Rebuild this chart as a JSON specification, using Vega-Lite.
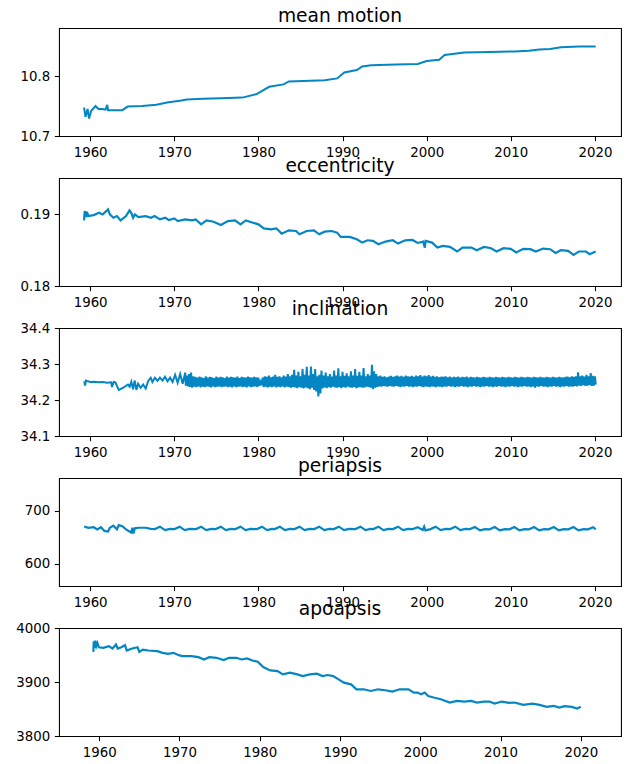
{
  "$schema": "https://vega.github.io/schema/vega-lite/v6.json",
  "background": "white",
  "padding": {"left": 15, "top": 6, "right": 10, "bottom": 5},
  "bounds": "flush",
  "spacing": 42,
  "config": {
    "font": "DejaVu Sans",
    "view": {"stroke": "black", "strokeWidth": 1.07},
    "axis": {"grid": false, "domain": false, "ticks": true, "tickColor": "black", "tickSize": 4.67, "tickWidth": 1.07, "labelPadding": 4.67, "labelFontSize": 13.33, "labelColor": "black", "labelFont": "DejaVu Sans", "labelFlush": false, "labelOverlap": false, "title": null},
    "title": {"fontSize": 18.67, "fontWeight": "normal", "font": "DejaVu Sans", "color": "black", "offset": 2.5, "baseline": "alphabetic", "anchor": "middle"}
  },
  "datasets": {
    "mm": [
      {"year": 1959.28, "value": 10.7475}, {"year": 1959.45, "value": 10.732}, {"year": 1959.70, "value": 10.745}, {"year": 1959.87, "value": 10.729},
      {"year": 1960.13, "value": 10.742}, {"year": 1960.64, "value": 10.750}, {"year": 1960.98, "value": 10.745}, {"year": 1961.40, "value": 10.745},
      {"year": 1961.83, "value": 10.744}, {"year": 1962.04, "value": 10.752}, {"year": 1962.13, "value": 10.743}, {"year": 1962.77, "value": 10.743},
      {"year": 1963.83, "value": 10.743}, {"year": 1964.47, "value": 10.749}, {"year": 1966.17, "value": 10.750}, {"year": 1967.87, "value": 10.752},
      {"year": 1969.15, "value": 10.756}, {"year": 1970.85, "value": 10.759}, {"year": 1971.49, "value": 10.761}, {"year": 1973.40, "value": 10.762},
      {"year": 1975.53, "value": 10.763}, {"year": 1978.09, "value": 10.764}, {"year": 1979.79, "value": 10.770}, {"year": 1981.28, "value": 10.782},
      {"year": 1982.98, "value": 10.786}, {"year": 1983.62, "value": 10.791}, {"year": 1986.17, "value": 10.792}, {"year": 1987.87, "value": 10.793},
      {"year": 1989.36, "value": 10.796}, {"year": 1990.21, "value": 10.806}, {"year": 1991.70, "value": 10.810}, {"year": 1992.34, "value": 10.816},
      {"year": 1993.40, "value": 10.818}, {"year": 1996.38, "value": 10.819}, {"year": 1998.94, "value": 10.820}, {"year": 2000.00, "value": 10.825},
      {"year": 2001.49, "value": 10.827}, {"year": 2002.13, "value": 10.835}, {"year": 2004.47, "value": 10.839}, {"year": 2007.45, "value": 10.840},
      {"year": 2010.43, "value": 10.841}, {"year": 2012.13, "value": 10.842}, {"year": 2013.40, "value": 10.844}, {"year": 2014.68, "value": 10.845},
      {"year": 2015.96, "value": 10.848}, {"year": 2018.09, "value": 10.849}, {"year": 2020.09, "value": 10.849}
    ],
    "ecc": [
      {"year": 1959.28, "value": 0.18911}, {"year": 1959.36, "value": 0.19040}, {"year": 1959.53, "value": 0.18957}, {"year": 1959.62, "value": 0.19031},
      {"year": 1959.79, "value": 0.18971}, {"year": 1960.43, "value": 0.18985}, {"year": 1961.06, "value": 0.19017}, {"year": 1961.49, "value": 0.18994},
      {"year": 1961.91, "value": 0.19040}, {"year": 1962.13, "value": 0.19063}, {"year": 1962.34, "value": 0.18994}, {"year": 1962.77, "value": 0.18948},
      {"year": 1963.19, "value": 0.18971}, {"year": 1963.62, "value": 0.18911}, {"year": 1964.26, "value": 0.18971}, {"year": 1964.68, "value": 0.19049},
      {"year": 1964.89, "value": 0.19017}, {"year": 1965.11, "value": 0.18948}, {"year": 1965.32, "value": 0.18994}, {"year": 1965.74, "value": 0.18957},
      {"year": 1966.60, "value": 0.18971}, {"year": 1967.23, "value": 0.18948}, {"year": 1967.66, "value": 0.18971}, {"year": 1968.30, "value": 0.18925},
      {"year": 1968.94, "value": 0.18948}, {"year": 1969.36, "value": 0.18916}, {"year": 1970.00, "value": 0.18939}, {"year": 1970.43, "value": 0.18902},
      {"year": 1971.28, "value": 0.18925}, {"year": 1972.13, "value": 0.18911}, {"year": 1972.55, "value": 0.18925}, {"year": 1973.19, "value": 0.18856},
      {"year": 1973.83, "value": 0.18911}, {"year": 1974.68, "value": 0.18893}, {"year": 1975.53, "value": 0.18847}, {"year": 1976.38, "value": 0.18902},
      {"year": 1977.23, "value": 0.18911}, {"year": 1977.87, "value": 0.18856}, {"year": 1978.51, "value": 0.18911}, {"year": 1979.36, "value": 0.18879},
      {"year": 1980.00, "value": 0.18856}, {"year": 1980.64, "value": 0.18801}, {"year": 1981.49, "value": 0.18787}, {"year": 1982.13, "value": 0.18801},
      {"year": 1982.77, "value": 0.18727}, {"year": 1983.62, "value": 0.18773}, {"year": 1984.47, "value": 0.18764}, {"year": 1984.89, "value": 0.18718},
      {"year": 1985.74, "value": 0.18764}, {"year": 1986.60, "value": 0.18773}, {"year": 1987.23, "value": 0.18718}, {"year": 1987.87, "value": 0.18755},
      {"year": 1988.72, "value": 0.18764}, {"year": 1989.36, "value": 0.18741}, {"year": 1989.79, "value": 0.18681}, {"year": 1990.85, "value": 0.18681},
      {"year": 1991.70, "value": 0.18649}, {"year": 1992.34, "value": 0.18603}, {"year": 1992.98, "value": 0.18635}, {"year": 1993.62, "value": 0.18626},
      {"year": 1994.26, "value": 0.18580}, {"year": 1995.11, "value": 0.18617}, {"year": 1995.96, "value": 0.18635}, {"year": 1996.60, "value": 0.18589},
      {"year": 1997.45, "value": 0.18635}, {"year": 1998.30, "value": 0.18640}, {"year": 1998.94, "value": 0.18598}, {"year": 1999.57, "value": 0.18617},
      {"year": 1999.79, "value": 0.18534}, {"year": 1999.87, "value": 0.18626}, {"year": 2000.64, "value": 0.18603}, {"year": 2001.28, "value": 0.18534},
      {"year": 2001.91, "value": 0.18557}, {"year": 2002.77, "value": 0.18543}, {"year": 2003.62, "value": 0.18479}, {"year": 2004.26, "value": 0.18534},
      {"year": 2005.32, "value": 0.18534}, {"year": 2005.96, "value": 0.18497}, {"year": 2006.81, "value": 0.18543}, {"year": 2007.66, "value": 0.18525},
      {"year": 2008.30, "value": 0.18479}, {"year": 2009.15, "value": 0.18525}, {"year": 2010.00, "value": 0.18516}, {"year": 2010.64, "value": 0.18465},
      {"year": 2011.49, "value": 0.18516}, {"year": 2012.34, "value": 0.18511}, {"year": 2012.98, "value": 0.18479}, {"year": 2013.83, "value": 0.18520},
      {"year": 2014.68, "value": 0.18511}, {"year": 2015.32, "value": 0.18460}, {"year": 2015.96, "value": 0.18497}, {"year": 2016.81, "value": 0.18488},
      {"year": 2017.45, "value": 0.18433}, {"year": 2018.09, "value": 0.18479}, {"year": 2018.94, "value": 0.18479}, {"year": 2019.36, "value": 0.18442},
      {"year": 2020.09, "value": 0.18479}
    ],
    "inc": [
      {"year": 1959.30, "value": 34.252}, {"year": 1959.40, "value": 34.240}, {"year": 1959.50, "value": 34.254}, {"year": 1960.00, "value": 34.250},
      {"year": 1960.50, "value": 34.251}, {"year": 1961.00, "value": 34.249}, {"year": 1961.50, "value": 34.250}, {"year": 1962.00, "value": 34.248},
      {"year": 1962.50, "value": 34.249}, {"year": 1962.60, "value": 34.236}, {"year": 1962.80, "value": 34.250}, {"year": 1963.00, "value": 34.249},
      {"year": 1963.40, "value": 34.228}, {"year": 1964.00, "value": 34.235}, {"year": 1964.50, "value": 34.243}, {"year": 1964.70, "value": 34.237},
      {"year": 1964.90, "value": 34.251}, {"year": 1965.10, "value": 34.230}, {"year": 1965.30, "value": 34.254}, {"year": 1965.50, "value": 34.228},
      {"year": 1965.70, "value": 34.245}, {"year": 1966.00, "value": 34.234}, {"year": 1966.30, "value": 34.243}, {"year": 1966.60, "value": 34.232},
      {"year": 1966.90, "value": 34.253}, {"year": 1967.20, "value": 34.262}, {"year": 1967.40, "value": 34.250}, {"year": 1967.70, "value": 34.262},
      {"year": 1968.00, "value": 34.253}, {"year": 1968.30, "value": 34.262}, {"year": 1968.60, "value": 34.254}, {"year": 1968.90, "value": 34.265},
      {"year": 1969.20, "value": 34.252}, {"year": 1969.50, "value": 34.262}, {"year": 1969.80, "value": 34.250}, {"year": 1970.10, "value": 34.270},
      {"year": 1970.40, "value": 34.248}, {"year": 1970.70, "value": 34.272}, {"year": 1971.00, "value": 34.245}, {"year": 1971.30, "value": 34.276},
      {"year": 1971.375, "value": 34.240},
      {"year": 1971.500, "value": 34.268}, {"year": 1971.625, "value": 34.238}, {"year": 1971.750, "value": 34.272}, {"year": 1971.875, "value": 34.236},
      {"year": 1972.000, "value": 34.276}, {"year": 1972.125, "value": 34.234}, {"year": 1972.250, "value": 34.266}, {"year": 1972.375, "value": 34.237},
      {"year": 1972.500, "value": 34.264}, {"year": 1972.625, "value": 34.236}, {"year": 1972.750, "value": 34.262}, {"year": 1972.875, "value": 34.238},
      {"year": 1973.000, "value": 34.265}, {"year": 1973.125, "value": 34.235}, {"year": 1973.250, "value": 34.263}, {"year": 1973.375, "value": 34.237},
      {"year": 1973.500, "value": 34.261}, {"year": 1973.625, "value": 34.236}, {"year": 1973.750, "value": 34.266}, {"year": 1973.875, "value": 34.238},
      {"year": 1974.000, "value": 34.262}, {"year": 1974.125, "value": 34.237}, {"year": 1974.250, "value": 34.264}, {"year": 1974.375, "value": 34.235},
      {"year": 1974.500, "value": 34.263}, {"year": 1974.625, "value": 34.238}, {"year": 1974.750, "value": 34.261}, {"year": 1974.875, "value": 34.236},
      {"year": 1975.000, "value": 34.265}, {"year": 1975.125, "value": 34.237}, {"year": 1975.250, "value": 34.262}, {"year": 1975.375, "value": 34.238},
      {"year": 1975.500, "value": 34.264}, {"year": 1975.625, "value": 34.236}, {"year": 1975.750, "value": 34.263}, {"year": 1975.875, "value": 34.237},
      {"year": 1976.000, "value": 34.261}, {"year": 1976.125, "value": 34.238}, {"year": 1976.250, "value": 34.265}, {"year": 1976.375, "value": 34.236},
      {"year": 1976.500, "value": 34.262}, {"year": 1976.625, "value": 34.237}, {"year": 1976.750, "value": 34.264}, {"year": 1976.875, "value": 34.235},
      {"year": 1977.000, "value": 34.263}, {"year": 1977.125, "value": 34.238}, {"year": 1977.250, "value": 34.262}, {"year": 1977.375, "value": 34.236},
      {"year": 1977.500, "value": 34.265}, {"year": 1977.625, "value": 34.237}, {"year": 1977.750, "value": 34.261}, {"year": 1977.875, "value": 34.238},
      {"year": 1978.000, "value": 34.264}, {"year": 1978.125, "value": 34.236}, {"year": 1978.250, "value": 34.263}, {"year": 1978.375, "value": 34.237},
      {"year": 1978.500, "value": 34.262}, {"year": 1978.625, "value": 34.235}, {"year": 1978.750, "value": 34.265}, {"year": 1978.875, "value": 34.238},
      {"year": 1979.000, "value": 34.263}, {"year": 1979.125, "value": 34.236}, {"year": 1979.250, "value": 34.262}, {"year": 1979.375, "value": 34.237},
      {"year": 1979.500, "value": 34.264}, {"year": 1979.625, "value": 34.238}, {"year": 1979.750, "value": 34.263}, {"year": 1979.875, "value": 34.236},
      {"year": 1980.000, "value": 34.262}, {"year": 1980.125, "value": 34.240}, {"year": 1980.250, "value": 34.250}, {"year": 1980.375, "value": 34.241},
      {"year": 1980.500, "value": 34.262}, {"year": 1980.625, "value": 34.236}, {"year": 1980.750, "value": 34.266}, {"year": 1980.875, "value": 34.237},
      {"year": 1981.000, "value": 34.264}, {"year": 1981.125, "value": 34.235}, {"year": 1981.250, "value": 34.268}, {"year": 1981.375, "value": 34.237},
      {"year": 1981.500, "value": 34.263}, {"year": 1981.625, "value": 34.236}, {"year": 1981.750, "value": 34.265}, {"year": 1981.875, "value": 34.238},
      {"year": 1982.000, "value": 34.270}, {"year": 1982.125, "value": 34.235}, {"year": 1982.250, "value": 34.264}, {"year": 1982.375, "value": 34.237},
      {"year": 1982.500, "value": 34.266}, {"year": 1982.625, "value": 34.236}, {"year": 1982.750, "value": 34.263}, {"year": 1982.875, "value": 34.238},
      {"year": 1983.000, "value": 34.268}, {"year": 1983.125, "value": 34.235}, {"year": 1983.250, "value": 34.265}, {"year": 1983.375, "value": 34.237},
      {"year": 1983.500, "value": 34.272}, {"year": 1983.625, "value": 34.236}, {"year": 1983.750, "value": 34.266}, {"year": 1983.875, "value": 34.234},
      {"year": 1984.000, "value": 34.270}, {"year": 1984.125, "value": 34.236}, {"year": 1984.250, "value": 34.284}, {"year": 1984.375, "value": 34.235},
      {"year": 1984.500, "value": 34.268}, {"year": 1984.625, "value": 34.233}, {"year": 1984.750, "value": 34.278}, {"year": 1984.875, "value": 34.236},
      {"year": 1985.000, "value": 34.266}, {"year": 1985.125, "value": 34.234}, {"year": 1985.250, "value": 34.286}, {"year": 1985.375, "value": 34.232},
      {"year": 1985.500, "value": 34.270}, {"year": 1985.625, "value": 34.235}, {"year": 1985.750, "value": 34.292}, {"year": 1985.875, "value": 34.233},
      {"year": 1986.000, "value": 34.268}, {"year": 1986.125, "value": 34.230}, {"year": 1986.250, "value": 34.293}, {"year": 1986.375, "value": 34.234},
      {"year": 1986.500, "value": 34.272}, {"year": 1986.625, "value": 34.228}, {"year": 1986.750, "value": 34.286}, {"year": 1986.875, "value": 34.224},
      {"year": 1987.000, "value": 34.266}, {"year": 1987.125, "value": 34.210}, {"year": 1987.250, "value": 34.270}, {"year": 1987.375, "value": 34.218},
      {"year": 1987.500, "value": 34.282}, {"year": 1987.625, "value": 34.232}, {"year": 1987.750, "value": 34.268}, {"year": 1987.875, "value": 34.235},
      {"year": 1988.000, "value": 34.276}, {"year": 1988.125, "value": 34.233}, {"year": 1988.250, "value": 34.266}, {"year": 1988.375, "value": 34.236},
      {"year": 1988.500, "value": 34.272}, {"year": 1988.625, "value": 34.234}, {"year": 1988.750, "value": 34.265}, {"year": 1988.875, "value": 34.237},
      {"year": 1989.000, "value": 34.282}, {"year": 1989.125, "value": 34.235}, {"year": 1989.250, "value": 34.268}, {"year": 1989.375, "value": 34.234},
      {"year": 1989.500, "value": 34.288}, {"year": 1989.625, "value": 34.236}, {"year": 1989.750, "value": 34.266}, {"year": 1989.875, "value": 34.233},
      {"year": 1990.000, "value": 34.278}, {"year": 1990.125, "value": 34.236}, {"year": 1990.250, "value": 34.267}, {"year": 1990.375, "value": 34.234},
      {"year": 1990.500, "value": 34.274}, {"year": 1990.625, "value": 34.237}, {"year": 1990.750, "value": 34.266}, {"year": 1990.875, "value": 34.235},
      {"year": 1991.000, "value": 34.280}, {"year": 1991.125, "value": 34.234}, {"year": 1991.250, "value": 34.268}, {"year": 1991.375, "value": 34.236},
      {"year": 1991.500, "value": 34.286}, {"year": 1991.625, "value": 34.233}, {"year": 1991.750, "value": 34.267}, {"year": 1991.875, "value": 34.235},
      {"year": 1992.000, "value": 34.278}, {"year": 1992.125, "value": 34.236}, {"year": 1992.250, "value": 34.268}, {"year": 1992.375, "value": 34.234},
      {"year": 1992.500, "value": 34.289}, {"year": 1992.625, "value": 34.235}, {"year": 1992.750, "value": 34.266}, {"year": 1992.875, "value": 34.237},
      {"year": 1993.000, "value": 34.272}, {"year": 1993.125, "value": 34.236}, {"year": 1993.250, "value": 34.268}, {"year": 1993.375, "value": 34.234},
      {"year": 1993.500, "value": 34.298}, {"year": 1993.625, "value": 34.230}, {"year": 1993.750, "value": 34.280}, {"year": 1993.875, "value": 34.234},
      {"year": 1994.000, "value": 34.272}, {"year": 1994.125, "value": 34.236}, {"year": 1994.250, "value": 34.266}, {"year": 1994.375, "value": 34.238},
      {"year": 1994.500, "value": 34.268}, {"year": 1994.625, "value": 34.237}, {"year": 1994.750, "value": 34.264}, {"year": 1994.875, "value": 34.239},
      {"year": 1995.000, "value": 34.266}, {"year": 1995.125, "value": 34.238}, {"year": 1995.250, "value": 34.263}, {"year": 1995.375, "value": 34.237},
      {"year": 1995.500, "value": 34.265}, {"year": 1995.625, "value": 34.239}, {"year": 1995.750, "value": 34.267}, {"year": 1995.875, "value": 34.238},
      {"year": 1996.000, "value": 34.264}, {"year": 1996.125, "value": 34.237}, {"year": 1996.250, "value": 34.266}, {"year": 1996.375, "value": 34.239},
      {"year": 1996.500, "value": 34.268}, {"year": 1996.625, "value": 34.238}, {"year": 1996.750, "value": 34.265}, {"year": 1996.875, "value": 34.236},
      {"year": 1997.000, "value": 34.267}, {"year": 1997.125, "value": 34.238}, {"year": 1997.250, "value": 34.264}, {"year": 1997.375, "value": 34.237},
      {"year": 1997.500, "value": 34.268}, {"year": 1997.625, "value": 34.239}, {"year": 1997.750, "value": 34.266}, {"year": 1997.875, "value": 34.237},
      {"year": 1998.000, "value": 34.265}, {"year": 1998.125, "value": 34.238}, {"year": 1998.250, "value": 34.267}, {"year": 1998.375, "value": 34.236},
      {"year": 1998.500, "value": 34.264}, {"year": 1998.625, "value": 34.238}, {"year": 1998.750, "value": 34.268}, {"year": 1998.875, "value": 34.237},
      {"year": 1999.000, "value": 34.266}, {"year": 1999.125, "value": 34.239}, {"year": 1999.250, "value": 34.269}, {"year": 1999.375, "value": 34.237},
      {"year": 1999.500, "value": 34.265}, {"year": 1999.625, "value": 34.236}, {"year": 1999.750, "value": 34.268}, {"year": 1999.875, "value": 34.238},
      {"year": 2000.000, "value": 34.266}, {"year": 2000.125, "value": 34.237}, {"year": 2000.250, "value": 34.269}, {"year": 2000.375, "value": 34.236},
      {"year": 2000.500, "value": 34.265}, {"year": 2000.625, "value": 34.238}, {"year": 2000.750, "value": 34.267}, {"year": 2000.875, "value": 34.237},
      {"year": 2001.000, "value": 34.264}, {"year": 2001.125, "value": 34.236}, {"year": 2001.250, "value": 34.266}, {"year": 2001.375, "value": 34.238},
      {"year": 2001.500, "value": 34.263}, {"year": 2001.625, "value": 34.237}, {"year": 2001.750, "value": 34.265}, {"year": 2001.875, "value": 34.236},
      {"year": 2002.000, "value": 34.264}, {"year": 2002.125, "value": 34.238}, {"year": 2002.250, "value": 34.266}, {"year": 2002.375, "value": 34.237},
      {"year": 2002.500, "value": 34.263}, {"year": 2002.625, "value": 34.239}, {"year": 2002.750, "value": 34.265}, {"year": 2002.875, "value": 34.237},
      {"year": 2003.000, "value": 34.262}, {"year": 2003.125, "value": 34.238}, {"year": 2003.250, "value": 34.264}, {"year": 2003.375, "value": 34.236},
      {"year": 2003.500, "value": 34.263}, {"year": 2003.625, "value": 34.238}, {"year": 2003.750, "value": 34.265}, {"year": 2003.875, "value": 34.237},
      {"year": 2004.000, "value": 34.262}, {"year": 2004.125, "value": 34.239}, {"year": 2004.250, "value": 34.264}, {"year": 2004.375, "value": 34.237},
      {"year": 2004.500, "value": 34.263}, {"year": 2004.625, "value": 34.238}, {"year": 2004.750, "value": 34.265}, {"year": 2004.875, "value": 34.236},
      {"year": 2005.000, "value": 34.262}, {"year": 2005.125, "value": 34.238}, {"year": 2005.250, "value": 34.264}, {"year": 2005.375, "value": 34.237},
      {"year": 2005.500, "value": 34.263}, {"year": 2005.625, "value": 34.239}, {"year": 2005.750, "value": 34.262}, {"year": 2005.875, "value": 34.237},
      {"year": 2006.000, "value": 34.264}, {"year": 2006.125, "value": 34.238}, {"year": 2006.250, "value": 34.263}, {"year": 2006.375, "value": 34.236},
      {"year": 2006.500, "value": 34.262}, {"year": 2006.625, "value": 34.238}, {"year": 2006.750, "value": 34.264}, {"year": 2006.875, "value": 34.237},
      {"year": 2007.000, "value": 34.263}, {"year": 2007.125, "value": 34.239}, {"year": 2007.250, "value": 34.262}, {"year": 2007.375, "value": 34.237},
      {"year": 2007.500, "value": 34.264}, {"year": 2007.625, "value": 34.238}, {"year": 2007.750, "value": 34.263}, {"year": 2007.875, "value": 34.236},
      {"year": 2008.000, "value": 34.262}, {"year": 2008.125, "value": 34.238}, {"year": 2008.250, "value": 34.264}, {"year": 2008.375, "value": 34.237},
      {"year": 2008.500, "value": 34.263}, {"year": 2008.625, "value": 34.239}, {"year": 2008.750, "value": 34.262}, {"year": 2008.875, "value": 34.237},
      {"year": 2009.000, "value": 34.264}, {"year": 2009.125, "value": 34.238}, {"year": 2009.250, "value": 34.263}, {"year": 2009.375, "value": 34.236},
      {"year": 2009.500, "value": 34.262}, {"year": 2009.625, "value": 34.238}, {"year": 2009.750, "value": 34.264}, {"year": 2009.875, "value": 34.237},
      {"year": 2010.000, "value": 34.263}, {"year": 2010.125, "value": 34.239}, {"year": 2010.250, "value": 34.262}, {"year": 2010.375, "value": 34.237},
      {"year": 2010.500, "value": 34.264}, {"year": 2010.625, "value": 34.238}, {"year": 2010.750, "value": 34.263}, {"year": 2010.875, "value": 34.236},
      {"year": 2011.000, "value": 34.262}, {"year": 2011.125, "value": 34.238}, {"year": 2011.250, "value": 34.264}, {"year": 2011.375, "value": 34.237},
      {"year": 2011.500, "value": 34.263}, {"year": 2011.625, "value": 34.239}, {"year": 2011.750, "value": 34.262}, {"year": 2011.875, "value": 34.237},
      {"year": 2012.000, "value": 34.264}, {"year": 2012.125, "value": 34.238}, {"year": 2012.250, "value": 34.263}, {"year": 2012.375, "value": 34.236},
      {"year": 2012.500, "value": 34.262}, {"year": 2012.625, "value": 34.238}, {"year": 2012.750, "value": 34.264}, {"year": 2012.875, "value": 34.234},
      {"year": 2013.000, "value": 34.263}, {"year": 2013.125, "value": 34.238}, {"year": 2013.250, "value": 34.262}, {"year": 2013.375, "value": 34.237},
      {"year": 2013.500, "value": 34.264}, {"year": 2013.625, "value": 34.239}, {"year": 2013.750, "value": 34.263}, {"year": 2013.875, "value": 34.237},
      {"year": 2014.000, "value": 34.262}, {"year": 2014.125, "value": 34.238}, {"year": 2014.250, "value": 34.264}, {"year": 2014.375, "value": 34.236},
      {"year": 2014.500, "value": 34.263}, {"year": 2014.625, "value": 34.238}, {"year": 2014.750, "value": 34.262}, {"year": 2014.875, "value": 34.237},
      {"year": 2015.000, "value": 34.264}, {"year": 2015.125, "value": 34.239}, {"year": 2015.250, "value": 34.263}, {"year": 2015.375, "value": 34.237},
      {"year": 2015.500, "value": 34.262}, {"year": 2015.625, "value": 34.238}, {"year": 2015.750, "value": 34.264}, {"year": 2015.875, "value": 34.236},
      {"year": 2016.000, "value": 34.263}, {"year": 2016.125, "value": 34.238}, {"year": 2016.250, "value": 34.262}, {"year": 2016.375, "value": 34.237},
      {"year": 2016.500, "value": 34.264}, {"year": 2016.625, "value": 34.239}, {"year": 2016.750, "value": 34.265}, {"year": 2016.875, "value": 34.237},
      {"year": 2017.000, "value": 34.263}, {"year": 2017.125, "value": 34.238}, {"year": 2017.250, "value": 34.266}, {"year": 2017.375, "value": 34.237},
      {"year": 2017.500, "value": 34.264}, {"year": 2017.625, "value": 34.239}, {"year": 2017.750, "value": 34.266}, {"year": 2017.875, "value": 34.238},
      {"year": 2018.000, "value": 34.277}, {"year": 2018.125, "value": 34.240}, {"year": 2018.250, "value": 34.266}, {"year": 2018.375, "value": 34.239},
      {"year": 2018.500, "value": 34.268}, {"year": 2018.625, "value": 34.241}, {"year": 2018.750, "value": 34.265}, {"year": 2018.875, "value": 34.239},
      {"year": 2019.000, "value": 34.270}, {"year": 2019.125, "value": 34.240}, {"year": 2019.250, "value": 34.266}, {"year": 2019.375, "value": 34.241},
      {"year": 2019.500, "value": 34.275}, {"year": 2019.625, "value": 34.239}, {"year": 2019.750, "value": 34.267}, {"year": 2019.875, "value": 34.240},
      {"year": 2020.000, "value": 34.266}, {"year": 2020.100, "value": 34.243}
    ],
    "peri": [
      {"year": 1959.28, "value": 670.5}, {"year": 1959.79, "value": 668}, {"year": 1960.43, "value": 669}, {"year": 1960.85, "value": 665},
      {"year": 1961.28, "value": 669}, {"year": 1961.70, "value": 662}, {"year": 1962.13, "value": 661}, {"year": 1962.34, "value": 668},
      {"year": 1962.77, "value": 672}, {"year": 1963.19, "value": 665}, {"year": 1963.40, "value": 673}, {"year": 1963.83, "value": 671},
      {"year": 1964.26, "value": 665}, {"year": 1964.68, "value": 661}, {"year": 1964.89, "value": 659}, {"year": 1965.02, "value": 668},
      {"year": 1965.15, "value": 657}, {"year": 1965.32, "value": 667}, {"year": 1965.74, "value": 668}, {"year": 1966.60, "value": 668},
      {"year": 1967.23, "value": 666}, {"year": 1967.70, "value": 665.5}, {"year": 1968.30, "value": 670}, {"year": 1968.90, "value": 663.5},
      {"year": 1969.50, "value": 666}, {"year": 1970.04, "value": 665.5}, {"year": 1970.64, "value": 670}, {"year": 1971.24, "value": 663.5},
      {"year": 1971.84, "value": 666}, {"year": 1972.59, "value": 665.5}, {"year": 1973.19, "value": 670}, {"year": 1973.79, "value": 663.5},
      {"year": 1974.39, "value": 666}, {"year": 1974.93, "value": 665.5}, {"year": 1975.53, "value": 670}, {"year": 1976.13, "value": 663.5},
      {"year": 1976.73, "value": 666}, {"year": 1977.27, "value": 665.5}, {"year": 1977.87, "value": 670}, {"year": 1978.47, "value": 663.5},
      {"year": 1979.07, "value": 666}, {"year": 1979.83, "value": 665.5}, {"year": 1980.43, "value": 670}, {"year": 1981.03, "value": 663.5},
      {"year": 1981.63, "value": 666}, {"year": 1981.95, "value": 665.5}, {"year": 1982.55, "value": 670}, {"year": 1983.15, "value": 663.5},
      {"year": 1983.75, "value": 666}, {"year": 1984.29, "value": 665.5}, {"year": 1984.89, "value": 670}, {"year": 1985.49, "value": 663.5},
      {"year": 1986.09, "value": 666}, {"year": 1986.63, "value": 665.5}, {"year": 1987.23, "value": 670}, {"year": 1987.83, "value": 663.5},
      {"year": 1988.43, "value": 666}, {"year": 1988.97, "value": 665.5}, {"year": 1989.57, "value": 670}, {"year": 1990.17, "value": 663.5},
      {"year": 1990.77, "value": 666}, {"year": 1991.53, "value": 665.5}, {"year": 1992.13, "value": 670}, {"year": 1992.73, "value": 663.5},
      {"year": 1993.33, "value": 666}, {"year": 1993.66, "value": 665.5}, {"year": 1994.26, "value": 670}, {"year": 1994.86, "value": 663.5},
      {"year": 1995.46, "value": 666}, {"year": 1996.00, "value": 665.5}, {"year": 1996.60, "value": 670}, {"year": 1997.20, "value": 663.5},
      {"year": 1997.80, "value": 666}, {"year": 1998.34, "value": 665.5}, {"year": 1998.94, "value": 669}, {"year": 1999.54, "value": 664},
      {"year": 1999.70, "value": 670}, {"year": 1999.85, "value": 663}, {"year": 2000.46, "value": 665.5}, {"year": 2001.06, "value": 670},
      {"year": 2001.66, "value": 663.5}, {"year": 2002.26, "value": 666}, {"year": 2002.80, "value": 665.5}, {"year": 2003.40, "value": 670},
      {"year": 2004.00, "value": 663.5}, {"year": 2004.60, "value": 666}, {"year": 2005.14, "value": 665.5}, {"year": 2005.74, "value": 669.5},
      {"year": 2006.34, "value": 663}, {"year": 2006.94, "value": 665.5}, {"year": 2007.49, "value": 665}, {"year": 2008.09, "value": 669.5},
      {"year": 2008.69, "value": 663}, {"year": 2009.29, "value": 665.5}, {"year": 2009.83, "value": 665}, {"year": 2010.43, "value": 669.5},
      {"year": 2011.03, "value": 663}, {"year": 2011.63, "value": 665.5}, {"year": 2012.17, "value": 665}, {"year": 2012.77, "value": 669.5},
      {"year": 2013.37, "value": 663}, {"year": 2013.97, "value": 665.5}, {"year": 2014.51, "value": 665}, {"year": 2015.11, "value": 669.5},
      {"year": 2015.71, "value": 663}, {"year": 2016.31, "value": 665.5}, {"year": 2016.85, "value": 665}, {"year": 2017.45, "value": 669.5},
      {"year": 2018.05, "value": 663}, {"year": 2018.65, "value": 665.5}, {"year": 2019.19, "value": 665}, {"year": 2019.79, "value": 669},
      {"year": 2020.09, "value": 665}
    ],
    "apo": [
      {"year": 1959.28, "value": 3955.8}, {"year": 1959.33, "value": 3975.5}, {"year": 1959.42, "value": 3963.2}, {"year": 1959.51, "value": 3976.7},
      {"year": 1959.64, "value": 3966.3}, {"year": 1959.78, "value": 3972.4}, {"year": 1959.96, "value": 3964.4}, {"year": 1960.54, "value": 3963.2},
      {"year": 1961.21, "value": 3966.3}, {"year": 1961.65, "value": 3962.0}, {"year": 1962.10, "value": 3969.3}, {"year": 1962.32, "value": 3962.0},
      {"year": 1962.77, "value": 3964.4}, {"year": 1963.22, "value": 3968.1}, {"year": 1963.44, "value": 3958.3}, {"year": 1964.11, "value": 3962.0},
      {"year": 1964.78, "value": 3964.4}, {"year": 1965.01, "value": 3955.8}, {"year": 1965.45, "value": 3960.1}, {"year": 1966.12, "value": 3958.3},
      {"year": 1967.24, "value": 3957.1}, {"year": 1967.91, "value": 3954.0}, {"year": 1968.58, "value": 3952.1}, {"year": 1969.25, "value": 3954.0},
      {"year": 1969.92, "value": 3949.7}, {"year": 1970.37, "value": 3947.9}, {"year": 1971.49, "value": 3947.9}, {"year": 1972.38, "value": 3946.0},
      {"year": 1973.05, "value": 3941.7}, {"year": 1973.72, "value": 3946.0}, {"year": 1974.62, "value": 3944.8}, {"year": 1975.51, "value": 3940.5},
      {"year": 1976.18, "value": 3944.8}, {"year": 1977.08, "value": 3944.8}, {"year": 1977.75, "value": 3941.7}, {"year": 1978.42, "value": 3943.6},
      {"year": 1979.09, "value": 3939.9}, {"year": 1979.76, "value": 3937.4}, {"year": 1980.43, "value": 3927.6}, {"year": 1981.32, "value": 3921.5},
      {"year": 1982.22, "value": 3920.2}, {"year": 1982.89, "value": 3914.1}, {"year": 1983.78, "value": 3917.2}, {"year": 1984.68, "value": 3914.1},
      {"year": 1985.35, "value": 3911.0}, {"year": 1986.24, "value": 3914.1}, {"year": 1987.13, "value": 3915.3}, {"year": 1987.81, "value": 3911.0},
      {"year": 1988.48, "value": 3912.9}, {"year": 1989.15, "value": 3911.0}, {"year": 1989.82, "value": 3904.9}, {"year": 1990.49, "value": 3898.8},
      {"year": 1991.38, "value": 3895.7}, {"year": 1992.05, "value": 3886.5}, {"year": 1992.95, "value": 3886.5}, {"year": 1993.84, "value": 3883.4},
      {"year": 1994.73, "value": 3886.5}, {"year": 1995.63, "value": 3884.7}, {"year": 1996.52, "value": 3882.2}, {"year": 1997.42, "value": 3886.5},
      {"year": 1998.53, "value": 3886.5}, {"year": 1999.20, "value": 3880.4}, {"year": 1999.65, "value": 3880.4}, {"year": 2000.10, "value": 3877.3},
      {"year": 2000.55, "value": 3880.4}, {"year": 2000.99, "value": 3874.2}, {"year": 2001.66, "value": 3871.2}, {"year": 2002.56, "value": 3868.1},
      {"year": 2003.67, "value": 3862.0}, {"year": 2004.57, "value": 3865.0}, {"year": 2005.46, "value": 3863.8}, {"year": 2006.36, "value": 3865.0},
      {"year": 2007.03, "value": 3862.0}, {"year": 2007.92, "value": 3863.8}, {"year": 2008.59, "value": 3863.8}, {"year": 2009.26, "value": 3860.1},
      {"year": 2010.16, "value": 3863.8}, {"year": 2011.05, "value": 3861.3}, {"year": 2011.72, "value": 3862.0}, {"year": 2012.84, "value": 3857.7},
      {"year": 2013.96, "value": 3860.1}, {"year": 2014.85, "value": 3857.7}, {"year": 2015.74, "value": 3854.0}, {"year": 2016.64, "value": 3855.8},
      {"year": 2017.31, "value": 3852.8}, {"year": 2017.98, "value": 3855.2}, {"year": 2018.87, "value": 3854.0}, {"year": 2019.54, "value": 3850.9},
      {"year": 2019.99, "value": 3854.0}
    ]
  },
  "vconcat": [
    {
      "title": "mean motion",
      "width": 562, "height": 108,
      "data": {"name": "mm"},
      "mark": {"type": "line", "color": "#0586c4", "strokeWidth": 2, "clip": true},
      "encoding": {
        "x": {"field": "year", "type": "quantitative", "scale": {"domain": [1956.3, 2023.1], "nice": false, "zero": false}, "axis": {"values": [1960, 1970, 1980, 1990, 2000, 2010, 2020], "format": "d"}},
        "y": {"field": "value", "type": "quantitative", "scale": {"domain": [10.7, 10.88], "nice": false, "zero": false}, "axis": {"values": [10.7, 10.8], "format": ".1f"}}
      }
    },
    {
      "title": "eccentricity",
      "width": 562, "height": 108,
      "data": {"name": "ecc"},
      "mark": {"type": "line", "color": "#0586c4", "strokeWidth": 2.2, "clip": true},
      "encoding": {
        "x": {"field": "year", "type": "quantitative", "scale": {"domain": [1956.3, 2023.1], "nice": false, "zero": false}, "axis": {"values": [1960, 1970, 1980, 1990, 2000, 2010, 2020], "format": "d"}},
        "y": {"field": "value", "type": "quantitative", "scale": {"domain": [0.18, 0.195], "nice": false, "zero": false}, "axis": {"values": [0.18, 0.19], "format": ".2f"}}
      }
    },
    {
      "title": "inclination",
      "width": 562, "height": 108,
      "data": {"name": "inc"},
      "mark": {"type": "line", "color": "#0586c4", "strokeWidth": 2, "clip": true},
      "encoding": {
        "x": {"field": "year", "type": "quantitative", "scale": {"domain": [1956.3, 2023.1], "nice": false, "zero": false}, "axis": {"values": [1960, 1970, 1980, 1990, 2000, 2010, 2020], "format": "d"}},
        "y": {"field": "value", "type": "quantitative", "scale": {"domain": [34.1, 34.4], "nice": false, "zero": false}, "axis": {"values": [34.1, 34.2, 34.3, 34.4], "format": ".1f"}}
      }
    },
    {
      "title": "periapsis",
      "width": 562, "height": 108,
      "data": {"name": "peri"},
      "mark": {"type": "line", "color": "#0586c4", "strokeWidth": 2.2, "clip": true},
      "encoding": {
        "x": {"field": "year", "type": "quantitative", "scale": {"domain": [1956.3, 2023.1], "nice": false, "zero": false}, "axis": {"values": [1960, 1970, 1980, 1990, 2000, 2010, 2020], "format": "d"}},
        "y": {"field": "value", "type": "quantitative", "scale": {"domain": [558, 762], "nice": false, "zero": false}, "axis": {"values": [600, 700], "format": "d"}}
      }
    },
    {
      "title": "apoapsis",
      "width": 562, "height": 108,
      "data": {"name": "apo"},
      "mark": {"type": "line", "color": "#0586c4", "strokeWidth": 2.2, "clip": true},
      "encoding": {
        "x": {"field": "year", "type": "quantitative", "scale": {"domain": [1955, 2025], "nice": false, "zero": false}, "axis": {"values": [1960, 1970, 1980, 1990, 2000, 2010, 2020], "format": "d"}},
        "y": {"field": "value", "type": "quantitative", "scale": {"domain": [3800, 4000], "nice": false, "zero": false}, "axis": {"values": [3800, 3900, 4000], "format": "d"}}
      }
    }
  ]
}
